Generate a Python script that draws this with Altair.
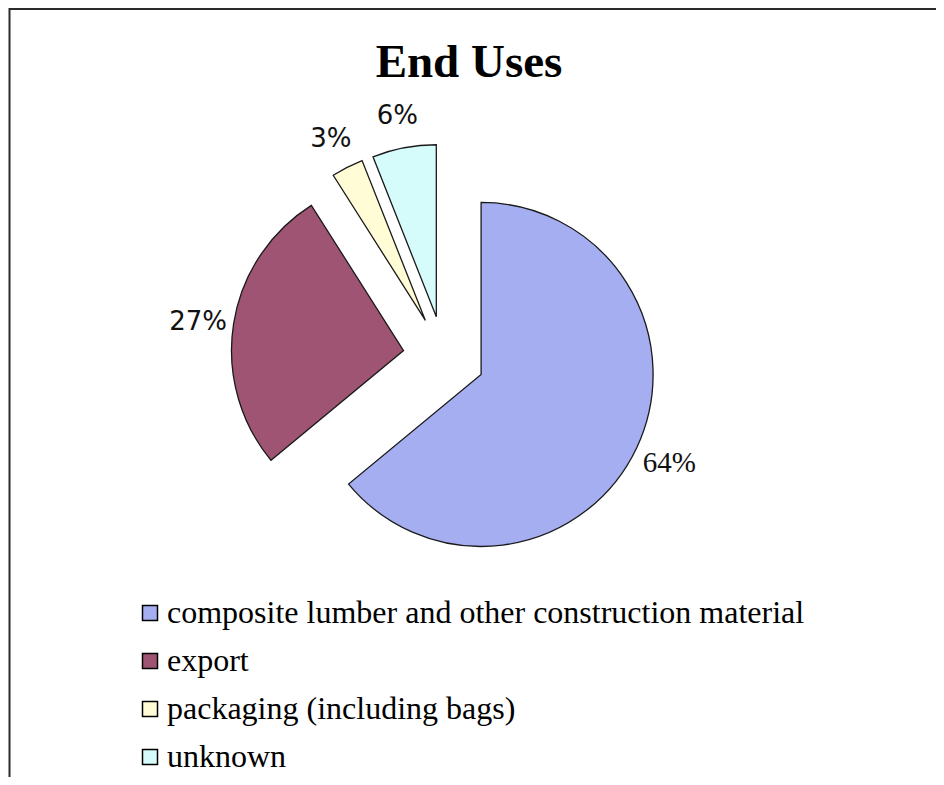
import altair as alt
import pandas as pd

# ---- data ----
categories = [
    "composite lumber and other construction material",
    "export",
    "packaging (including bags)",
    "unknown",
]
shares = [64, 27, 3, 6]
colors = ["#A5AEF1", "#A05473", "#FFFCD6", "#D5FBFB"]
title_text = "End Uses"

# ---- layout constants (pixels inside the chart) ----
W, H = 928, 769
CX, CY = 436, 349      # centre of the un-exploded pie
R = 172                # pie radius
EXPLODE = 41           # explosion distance of every slice
LABEL_R = 208          # label distance from the slice vertex

df = pd.DataFrame({"category": categories, "share": shares, "order": list(range(len(shares)))})
one = pd.DataFrame({"t": [title_text]})

base = (
    alt.Chart(df)
    .transform_window(cum="sum(share)", sort=[alt.SortField("order")])
    .transform_joinaggregate(total="sum(share)")
    .transform_calculate(
        start="2*PI*(datum.cum - datum.share)/datum.total",
        end="2*PI*datum.cum/datum.total",
    )
    .transform_calculate(mid="(datum.start + datum.end)/2")
    .transform_calculate(
        cx=f"{CX} + {EXPLODE}*sin(datum.mid)",
        cy=f"{CY} - {EXPLODE}*cos(datum.mid)",
        label="datum.share + '%'",
    )
)

xy = dict(
    x=alt.X("cx:Q", scale=None, axis=None),
    y=alt.Y("cy:Q", scale=None, axis=None),
)

arcs = base.mark_arc(radius=R, stroke="#1a1a1a", strokeWidth=1.3).encode(
    theta=alt.Theta("start:Q", scale=None, stack=False),
    theta2="end:Q",
    color=alt.Color(
        "category:N",
        scale=alt.Scale(domain=categories, range=colors),
        legend=alt.Legend(title=None),
    ),
    order=alt.Order("order:Q"),
    **xy,
)

labels_serif = (
    base.transform_filter(alt.datum.order == 0)
    .mark_text(radius=LABEL_R, font="Liberation Serif", fontSize=29, color="#111",
               align="center", baseline="middle")
    .encode(theta=alt.Theta("mid:Q", scale=None, stack=False), text="label:N", **xy)
)
labels_sans = (
    base.transform_filter(alt.datum.order > 0)
    .mark_text(radius=LABEL_R, font="DejaVu Sans", fontSize=26, color="#111",
               align="center", baseline="middle", dy=4)
    .encode(theta=alt.Theta("mid:Q", scale=None, stack=False), text="label:N", **xy)
)

title = alt.Chart(one).mark_text(
    font="Liberation Serif", fontWeight="bold", fontSize=47, color="black",
    align="center", baseline="alphabetic",
).encode(x=alt.value(461), y=alt.value(69), text="t:N")

frame_top = alt.Chart(one).mark_rule(color="#2b2b2b", strokeWidth=2).encode(
    x=alt.value(1), x2=alt.value(W), y=alt.value(1)
)
frame_left = alt.Chart(one).mark_rule(color="#2b2b2b", strokeWidth=2).encode(
    x=alt.value(1.5), y=alt.value(0), y2=alt.value(H)
)

chart = (
    alt.layer(frame_top, frame_left, arcs, labels_serif, labels_sans, title)
    .properties(width=W, height=H, autosize=alt.AutoSizeParams(type="none"), padding=0,
                background="white")
    .configure_view(stroke=None)
    .configure_legend(
        orient="none",
        legendX=126,
        legendY=589,
        symbolType="square",
        symbolSize=225,
        symbolStrokeColor="black",
        symbolStrokeWidth=1.5,
        symbolOpacity=1,
        labelFont="Liberation Serif",
        labelFontSize=32,
        labelColor="black",
        labelOffset=1,
        labelLimit=900,
        rowPadding=16,
        padding=0,
    )
)

chart.save("out.html", embed_options={"renderer": "svg", "actions": False})
